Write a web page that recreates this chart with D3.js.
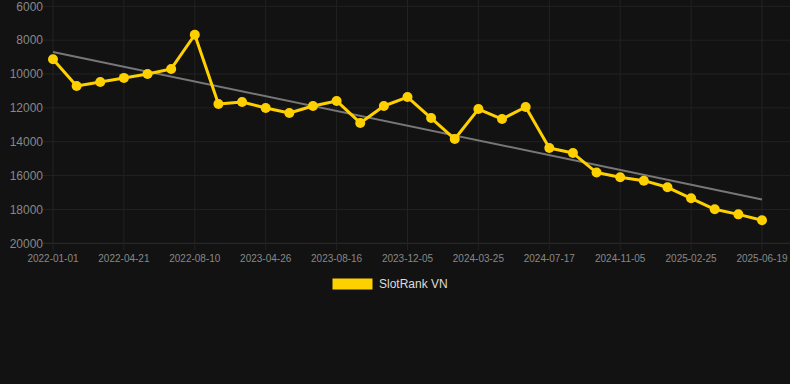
<!DOCTYPE html>
<html><head><meta charset="utf-8">
<script src="https://cdn.jsdelivr.net/npm/d3@7"></script>
<style>html,body{margin:0;padding:0;background:#121212;}svg{display:block;}</style>
</head><body>
<svg id="c" width="790" height="384"></svg>
<script>
const dates = ["2022-01-01","2022-02-07","2022-03-15","2022-04-21","2022-05-28","2022-07-04","2022-08-10","2022-11-04","2023-01-30","2023-04-26","2023-06-02","2023-07-09","2023-08-16","2023-09-22","2023-10-29","2023-12-05","2024-01-11","2024-02-17","2024-03-25","2024-05-02","2024-06-09","2024-07-17","2024-08-23","2024-09-29","2024-11-05","2024-12-12","2025-01-18","2025-02-25","2025-04-03","2025-05-11","2025-06-19"];
const ranks = [9130,10710,10470,10230,10000,9700,7680,11770,11650,12010,12300,11890,11590,12890,11890,11360,12600,13840,12070,12660,11950,14370,14670,15820,16100,16300,16690,17340,17990,18290,18640];
const yTicks = [6000,8000,10000,12000,14000,16000,18000,20000];
const xLabels = ["2022-01-01","2022-04-21","2022-08-10","2023-04-26","2023-08-16","2023-12-05","2024-03-25","2024-07-17","2024-11-05","2025-02-25","2025-06-19"];
const seriesName = "SlotRank VN";

const svg = d3.select("#c");
const L = 53, R = 762, T = 6.3, B = 243.3;
const x = d3.scalePoint().domain(dates).range([L, R]);
const y = d3.scaleLinear().domain([6000, 20000]).range([T, B]);

// grid
svg.append("g").selectAll("line").data(yTicks).join("line")
  .attr("x1", 43).attr("x2", 790).attr("y1", d => y(d)).attr("y2", d => y(d))
  .attr("stroke", d => d === 20000 ? "#2e2e2e" : "#222").attr("stroke-width", 1);
svg.append("g").selectAll("line").data(xLabels).join("line")
  .attr("x1", d => x(d)).attr("x2", d => x(d)).attr("y1", 0).attr("y2", 250)
  .attr("stroke", "#222").attr("stroke-width", 1);

// y axis labels
svg.append("g").selectAll("text").data(yTicks).join("text")
  .attr("x", 43).attr("y", d => y(d)).attr("dy", "0.35em").attr("text-anchor", "end")
  .attr("fill", "#888").attr("font-family", "Liberation Sans, Arial, sans-serif").attr("font-size", 12)
  .text(d => d);
// x axis labels
svg.append("g").selectAll("text").data(xLabels).join("text")
  .attr("x", d => x(d)).attr("y", 262).attr("text-anchor", "middle")
  .attr("fill", "#888").attr("font-family", "Liberation Sans, Arial, sans-serif").attr("font-size", 10)
  .text(d => d);

// trend line (least squares over index)
const n = ranks.length;
const idx = d3.range(n);
const mx = d3.mean(idx), my = d3.mean(ranks);
const slope = d3.sum(idx, i => (i - mx) * (ranks[i] - my)) / d3.sum(idx, i => (i - mx) ** 2);
const icpt = my - slope * mx;
svg.append("line")
  .attr("x1", x(dates[0])).attr("y1", y(icpt))
  .attr("x2", x(dates[n - 1])).attr("y2", y(icpt + slope * (n - 1)))
  .attr("stroke", "#777").attr("stroke-width", 2);

// series line
const line = d3.line().x((d, i) => x(dates[i])).y(d => y(d));
svg.append("path").datum(ranks).attr("d", line)
  .attr("fill", "none").attr("stroke", "#FFD000").attr("stroke-width", 3).attr("stroke-linejoin", "round");
svg.append("g").selectAll("circle").data(ranks).join("circle")
  .attr("cx", (d, i) => x(dates[i])).attr("cy", d => y(d)).attr("r", 5)
  .attr("fill", "#FFD000");

// legend
svg.append("rect").attr("x", 332.5).attr("y", 278.5).attr("width", 40).attr("height", 11).attr("fill", "#FFD000");
svg.append("text").attr("x", 379).attr("y", 284).attr("dy", "0.35em")
  .attr("fill", "#ddd").attr("font-family", "Liberation Sans, Arial, sans-serif").attr("font-size", 12)
  .text(seriesName);
</script>
</body></html>
